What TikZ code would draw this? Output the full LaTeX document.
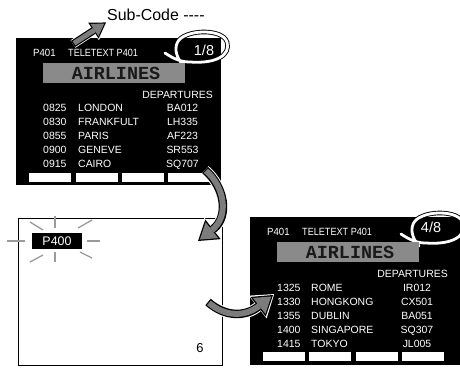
\documentclass[tikz,border=0pt]{standalone}
\usepackage{fontspec}
\setmainfont{Liberation Sans}
\newfontfamily\courfont{Liberation Mono}
\usepackage{graphicx}
\usepackage{xcolor}
\usetikzlibrary{arrows.meta, positioning}

\definecolor{barg}{HTML}{8A8A8A}
\definecolor{rayg}{HTML}{9A9A9A}
\definecolor{fatg}{HTML}{7C7C7C}

\begin{document}
\begin{tikzpicture}[
        x=1bp, y=-1bp,
        font=\fontsize{10.5}{12}\selectfont,
        tv/.style={fill=black, anchor=north west, inner sep=0pt},
        blank/.style={draw=black, line width=1.1bp, fill=white, anchor=north west, inner sep=0pt},
        txt/.style={text=white, inner sep=0pt, text height=7.6bp, text depth=0pt},
        hdr/.style={txt, anchor=west, font=\fontsize{10.5}{12}\selectfont},
        page/.style={txt, font=\fontsize{14.5}{16}\selectfont, text height=10.4bp},
        bar/.style={fill=barg, anchor=north west, inner sep=0pt, minimum width=142bp, minimum height=20bp},
        title/.style={inner sep=0pt, text=black!90, font=\fontsize{18.5}{19}\selectfont\courfont\bfseries},
        btn/.style={fill=white, anchor=north west, inner sep=0pt, minimum width=42bp, minimum height=9bp},
        lasso/.style={draw=white, line width=2.8bp, line cap=round, line join=round,
            preaction={draw=black, line width=4.6bp}},
        ray/.style={draw=rayg, line width=1.3bp},
        bigedge/.style={draw=white, line width=10.5bp, shorten >=-1.5bp,
            -{Triangle[length=21bp, width=29bp, line width=0pt]}},
        bigline/.style={draw=black, line width=8.5bp,
            -{Triangle[length=19bp, width=25bp, line width=0pt]}},
        bigfill/.style={draw=fatg, line width=6bp, shorten >=2.3bp, shorten <=1.2bp,
            -{Triangle[length=15.3bp, width=20.2bp, line width=0pt]}},
        smalledge/.style={draw=white, line width=9bp, shorten >=-1.3bp,
            -{Triangle[length=17bp, width=22bp, line width=0pt]}},
        smallline/.style={draw=black, line width=7.4bp,
            -{Triangle[length=15bp, width=19bp, line width=0pt]}},
        smallfill/.style={draw=fatg, line width=5bp, shorten >=2.2bp, shorten <=1.2bp,
            -{Triangle[length=11.6bp, width=14.7bp, line width=0pt]}}
    ]

        \useasboundingbox (0,0) rectangle (460,367);

        % screens
        \node[tv, minimum width=205bp, minimum height=147bp] (tvA) at (16,38) {};
        \node[blank, minimum width=204bp, minimum height=147bp] (tvB) at (18,218) {};
        \node[tv, minimum width=210bp, minimum height=148bp] (tvC) at (250,217) {};

        % sub-code label
        \node[anchor=west, inner sep=0pt, text height=11.5bp, text depth=0pt,
              font=\fontsize{16}{18}\selectfont] (subcode) at (107,15)
              {Sub-Code -\kern0pt-\kern0pt-\kern0pt-};

        % page 1/8
        \begin{scope}[shift={(16,38)}]
            \node[hdr] (pnA) at (17,15) {\scalebox{0.92}[1]{P401}};
            \node[hdr] (ttA) at (52,15) {\scalebox{0.87}[1]{TELETEXT P401}};
            \draw[lasso] (149,15) .. controls (158,21) and (165,24) .. (174,24)
                .. controls (200,26) and (215,17) .. (211,4)
                .. controls (207,-9) and (173,-9) .. (163,2)
                .. controls (158,8) and (159,18) .. (167,27);
            \node[page] (subA) at (188,12) {1/8};
            \node[bar] (barA) at (27,25) {};
            \node[title] (airA) at (100,35) {AIRLINES};
            \node[txt, anchor=east] (depA) at (197,57) {DEPARTURES};
            \foreach \t/\c/\f [count=\i from 0] in {0825/LONDON/BA012, 0830/FRANKFULT/LH335,
                    0855/PARIS/AF223, 0900/GENEVE/SR553, 0915/CAIRO/SQ707} {
                \node[txt, anchor=west] (tA\i) at (27,70+14*\i) {\t};
                \node[txt, anchor=west] (cA\i) at (62,70+14*\i) {\c};
                \node[txt] (fA\i) at (166.5,70+14*\i) {\f};
            }
            \foreach \x [count=\j] in {13,59.5,106,152}
                \node[btn] (bA\j) at (\x,135) {};
        \end{scope}

        % page 4/8
        \begin{scope}[shift={(250,217)}]
            \node[hdr] (pnC) at (17,15) {\scalebox{0.92}[1]{P401}};
            \node[hdr] (ttC) at (52,15) {\scalebox{0.87}[1]{TELETEXT P401}};
            \draw[lasso] (151,17) .. controls (160,23) and (167,26) .. (176,26)
                .. controls (202,28) and (217,19) .. (213,6)
                .. controls (209,-7) and (175,-7) .. (165,4)
                .. controls (160,10) and (161,20) .. (169,29);
            \node[page] (subC) at (181,10) {4/8};
            \node[bar] (barC) at (27,25) {};
            \node[title] (airC) at (100,35) {AIRLINES};
            \node[txt, anchor=east] (depC) at (198,57) {DEPARTURES};
            \foreach \t/\c/\f [count=\i from 0] in {1325/ROME/IR012, 1330/HONGKONG/CX501,
                    1355/DUBLIN/BA051, 1400/SINGAPORE/SQ307, 1415/TOKYO/JL005} {
                \node[txt, anchor=west] (tC\i) at (27,71+14*\i) {\t};
                \node[txt, anchor=west] (cC\i) at (61,71+14*\i) {\c};
                \node[txt] (fC\i) at (167,71+14*\i) {\f};
            }
            \foreach \x [count=\j] in {13,59,106,152}
                \node[btn] (bC\j) at (\x,135) {};
        \end{scope}

        % blank screen with flashing page number
        \node[fill=black, text=white, inner sep=0pt, minimum width=50bp, minimum height=16bp,
              font=\fontsize{12.5}{14}\selectfont] (pnew) at (57,241) {P400};
        \node[inner sep=0pt, font=\fontsize{13}{14}\selectfont] (pgno) at (200,348) {6};
        \draw[ray] ([shift={(-50,0)}]pnew.center) -- ([shift={(-32,0)}]pnew.center);
        \draw[ray] ([shift={(30,0)}]pnew.center) -- ([shift={(43,0)}]pnew.center);
        \draw[ray] ([shift={(-2,-25)}]pnew.center) -- ([shift={(-2,-13)}]pnew.center);
        \draw[ray] ([shift={(-2,11)}]pnew.center) -- ([shift={(-2,21)}]pnew.center);
        \draw[ray] ([shift={(-27,-19)}]pnew.center) -- ([shift={(-14,-11)}]pnew.center);
        \draw[ray] ([shift={(21,-13)}]pnew.center) -- ([shift={(35,-21)}]pnew.center);
        \draw[ray] ([shift={(-27,21)}]pnew.center) -- ([shift={(-14,14)}]pnew.center);
        \draw[ray] ([shift={(23,11)}]pnew.center) -- ([shift={(35,17)}]pnew.center);

        % fat arrows
        \coordinate (subtail) at (73,44);
        \coordinate (bendA) at (205,170);
        \coordinate (bendB) at (198,241);
        \coordinate (bendC) at (208,302);
        \coordinate (bendD) at (273,295);

        \foreach \s in {smalledge, smallline, smallfill}
            \draw[\s] (subtail) -- ([shift={(-1,1.5)}]subcode.south west);
        \foreach \s in {bigedge, bigline, bigfill}
            \draw[\s] (bendA) .. controls (224,186) and (230,216) .. (bendB);
        \foreach \s in {bigedge, bigline, bigfill}
            \draw[\s] (bendC) .. controls (225,317) and (245,317) .. (bendD);

    \end{tikzpicture}
\end{document}
